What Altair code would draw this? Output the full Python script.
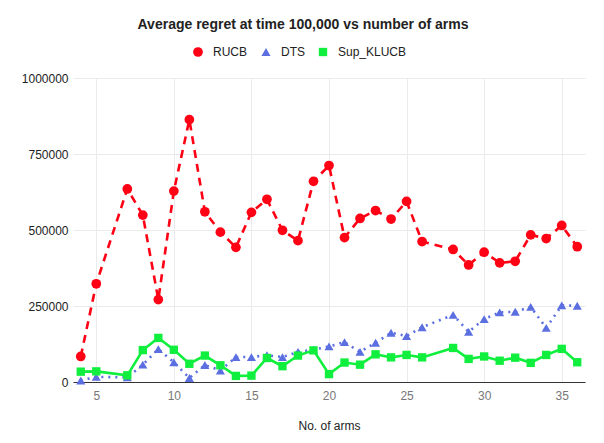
import altair as alt
import pandas as pd

arms = [4, 5, 7, 8, 9, 10, 11, 12, 13, 14, 15, 16, 17, 18, 19, 20,
        21, 22, 23, 24, 25, 26, 28, 29, 30, 31, 32, 33, 34, 35, 36]
rucb = [84000, 323000, 635000, 549000, 271000, 628000, 863000, 560000, 493000, 443000,
        558000, 601000, 499000, 465000, 660000, 712000,
        475000, 538000, 564000, 536000, 594000, 462000, 436000, 385000, 427000, 392000,
        397000, 484000, 472000, 515000, 445000]
dts = [5000, 17000, 15000, 57000, 108000, 65000, 13000, 56000, 38000, 82000,
       82000, 88000, 82000, 99000, 106000, 117000,
       131000, 99000, 129000, 162000, 151000, 180000, 221000, 165000, 207000, 229000,
       231000, 247000, 178000, 252000, 251000]
supk = [34000, 35000, 22000, 105000, 145000, 106000, 60000, 87000, 55000, 20000,
        21000, 79000, 52000, 87000, 104000, 26000,
        64000, 57000, 91000, 81000, 89000, 81000, 112000, 76000, 84000, 70000,
        80000, 63000, 89000, 109000, 65000]

series = ["RUCB", "DTS", "Sup_KLUCB"]
colors = ["#ff0014", "#5b6fe1", "#10ef3e"]
shapes = ["circle", "triangle-up", "square"]
sizes = [95, 70, 55]
dashes = [[8, 6], [2, 5], None]

rows = []
for name, vals in zip(series, [rucb, dts, supk]):
    for a, v in zip(arms, vals):
        rows.append({"arms": a, "regret": v, "series": name})
df = pd.DataFrame(rows)

FONT = "Liberation Sans"

x = alt.X("arms:Q", title="No. of arms",
          scale=alt.Scale(domain=[3.5, 36.5], nice=False, zero=False),
          axis=alt.Axis(values=[5, 10, 15, 20, 25, 30, 35], grid=True, ticks=False,
                        domain=True, domainColor="#333333", labelColor="#777777",
                        labelFontSize=12, labelPadding=8, titleFontSize=12,
                        titleFontWeight="normal", titleColor="#222222", titlePadding=19,
                        gridColor="#ebebeb"))
y = alt.Y("regret:Q", title=None,
          scale=alt.Scale(domain=[0, 1000000], nice=False),
          axis=alt.Axis(values=[0, 250000, 500000, 750000, 1000000], format="d",
                        ticks=False, domain=False, labelColor="#222222",
                        labelFontSize=12, labelPadding=5, gridColor="#ebebeb"))

leg = alt.Legend(orient="none", direction="horizontal",
                 legendX=119, legendY=-32, title=None,
                 labelFontSize=12, labelColor="#222222",
                 columnPadding=12, labelOffset=9,
                 symbolStrokeWidth=0, symbolOpacity=1)

layers = []
for name, col, dash in zip(series, colors, dashes):
    kw = {"strokeWidth": 2.6, "color": col}
    if dash is not None:
        kw["strokeDash"] = dash
    layers.append(
        alt.Chart(df).transform_filter(alt.datum.series == name)
        .mark_line(**kw).encode(x=x, y=y, order=alt.Order("arms:Q"))
    )

points = alt.Chart(df).mark_point(filled=True, opacity=1).encode(
    x=x, y=y,
    color=alt.Color("series:N", scale=alt.Scale(domain=series, range=colors),
                    sort=series, title=None, legend=leg),
    shape=alt.Shape("series:N", scale=alt.Scale(domain=series, range=shapes),
                    sort=series, title=None, legend=leg),
    size=alt.Size("series:N", scale=alt.Scale(domain=series, range=sizes),
                  sort=series, title=None, legend=leg),
)

chart = alt.layer(*layers, points).properties(
    width=512, height=304,
    title=alt.Title("Average regret at time 100,000 vs number of arms",
                    fontSize=14, fontWeight="bold", color="#222222", dx=-26, offset=14),
    autosize=alt.AutoSizeParams(type="none"),
    padding={"left": 65, "top": 70, "right": 11, "bottom": 53},
).configure(font=FONT).configure_view(stroke=None)

chart.save("out.html", embed_options={"renderer": "svg", "actions": False})
